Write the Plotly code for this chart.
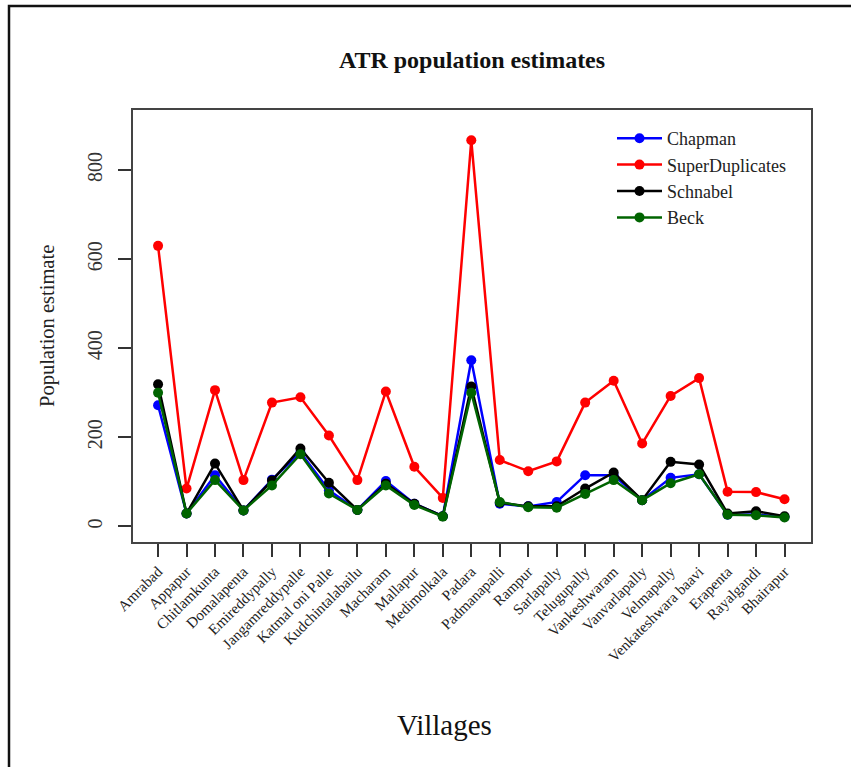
import plotly.graph_objects as go

# Villages surveyed in the Amrabad Tiger Reserve
villages = [
    "Amrabad", "Appapur", "Chitlamkunta", "Domalapenta", "Emireddypally",
    "Jangamreddypalle", "Katmal oni Palle", "Kudchintalabailu", "Macharam",
    "Mallapur", "Medimolkala", "Padara", "Padmanapalli", "Rampur",
    "Sarlapally", "Telugupally", "Vankeshwaram", "Vanvarlapally",
    "Velmapally", "Venkateshwara baavi", "Erapenta", "Rayalgandi", "Bhairapur",
]

# Population estimates per method
chapman = [272, 29, 115, 36, 105, 166, 81, 37, 102, 51, 23, 373, 51, 45,
           55, 115, 115, 59, 109, 117, 26, 27, 21]
super_duplicates = [630, 85, 306, 104, 278, 290, 204, 104, 303, 134, 64, 867,
                    149, 124, 146, 278, 327, 186, 293, 333, 78, 77, 61]
schnabel = [319, 29, 141, 36, 103, 175, 98, 37, 96, 51, 23, 314, 53, 45,
            45, 85, 121, 59, 145, 139, 29, 34, 23]
beck = [300, 29, 104, 36, 92, 162, 74, 37, 92, 48, 22, 300, 55, 43,
        42, 73, 104, 59, 97, 117, 26, 25, 20]

y_ticks = [0, 200, 400, 600, 800]

series = [
    ("Chapman", chapman, "#0000FF"),
    ("SuperDuplicates", super_duplicates, "#FF0000"),
    ("Schnabel", schnabel, "#000000"),
    ("Beck", beck, "#006400"),
]

W, H = 851, 767
L, R, T, B = 133, 40, 110, 225
PW, PH = W - L - R, H - T - B


def px_x(p):
    """Pixel column -> paper x."""
    return (p - L) / PW


def px_y(p):
    """Pixel row -> paper y."""
    return (H - B - p) / PH


fig = go.Figure()
xs = list(range(len(villages)))
for name, vals, col in series:
    fig.add_trace(go.Scatter(
        x=xs, y=vals, name=name, mode="lines+markers",
        line=dict(color=col, width=2.5),
        marker=dict(color=col, size=10, symbol="circle"),
    ))

serif = "Liberation Serif, Times New Roman, serif"

fig.update_layout(
    width=W, height=H,
    margin=dict(l=L, r=R, t=T, b=B),
    paper_bgcolor="white", plot_bgcolor="white",
    font=dict(family=serif, color="#222222"),
    title=dict(text="<b>ATR population estimates</b>", x=(L + (W - R)) / 2 / W,
               xanchor="center", y=1 - 60 / H, yanchor="middle",
               font=dict(size=24, color="#111111", family=serif)),
    showlegend=True,
    legend=dict(x=px_x(612), y=px_y(120), xanchor="left", yanchor="top",
                bgcolor="rgba(0,0,0,0)",
                font=dict(size=18, family=serif, color="#222222"),
                tracegroupgap=0, itemwidth=45),
    xaxis=dict(
        range=[-0.88, len(villages) - 1 + 0.93],
        tickmode="array", tickvals=xs, ticktext=villages,
        tickangle=-45, tickfont=dict(size=15, family=serif, color="#222222"),
        ticks="outside", ticklen=13, tickwidth=2, tickcolor="#333333",
        showline=True, linecolor="#444444", linewidth=2, mirror=True,
        showgrid=False, zeroline=False,
    ),
    yaxis=dict(
        range=[-35, 935],
        tickmode="array", tickvals=y_ticks, ticktext=[str(v) for v in y_ticks],
        tickangle=-90, tickfont=dict(size=20, family=serif, color="#333333"),
        ticks="outside", ticklen=13, tickwidth=2, tickcolor="#333333",
        ticklabelstandoff=8,
        showline=True, linecolor="#444444", linewidth=2, mirror=True,
        showgrid=False, zeroline=False,
    ),
)

# Axis titles
fig.add_annotation(text="Population estimate", xref="paper", yref="paper",
                   x=px_x(47), y=px_y(326),
                   textangle=-90, showarrow=False, xanchor="center", yanchor="middle",
                   font=dict(size=20.5, family=serif, color="#222222"))
fig.add_annotation(text="Villages", xref="paper", yref="paper",
                   x=px_x(444), y=px_y(725),
                   showarrow=False, xanchor="center", yanchor="middle",
                   font=dict(size=29, family=serif, color="#111111"))

# Outer frame around the figure
fig.add_shape(type="rect", xref="paper", yref="paper",
              x0=px_x(9), x1=px_x(W + 20), y0=px_y(H + 20), y1=px_y(6),
              line=dict(color="#111111", width=2.5), layer="below")

fig.write_html("out.html")
